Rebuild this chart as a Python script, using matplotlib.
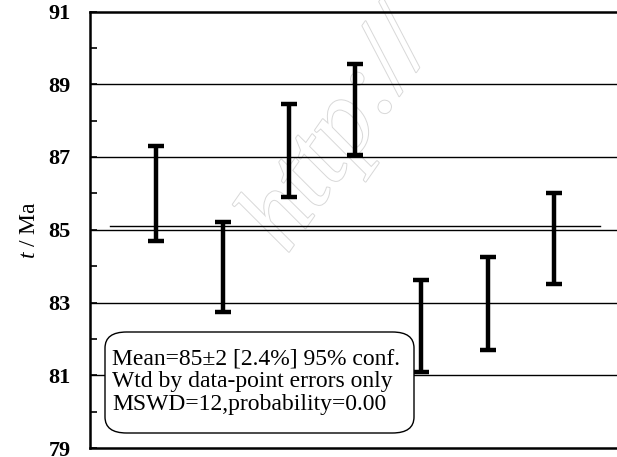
import numpy as np
import matplotlib.pyplot as plt
import matplotlib.patheffects as pe
from matplotlib.patches import FancyBboxPatch

# spot number and the two ends of each error bar (Ma)
spot = [1, 2, 3, 4, 5, 6, 7]
age_low = [84.70, 82.74, 85.91, 87.06, 81.08, 81.69, 83.52]
age_high = [87.31, 85.21, 88.45, 89.55, 83.62, 84.24, 86.00]
mean_age = 85.11
yticks = [79, 81, 83, 85, 87, 89, 91]

plt.rcParams['font.family'] = ['Liberation Serif', 'DejaVu Serif']
plt.rcParams['mathtext.fontset'] = 'custom'
plt.rcParams['mathtext.rm'] = 'Liberation Serif'
plt.rcParams['mathtext.it'] = 'Liberation Serif:italic'

fig = plt.figure(figsize=(6.17, 4.57), dpi=100)
ax = fig.add_axes([90/617, 1 - 448/457, 1 - 90/617 + 0.005, (448 - 11.5)/457])
ax.set_facecolor('none')

# faint watermark, behind everything
fig.text(340/617, 1 - 135/457, 'http://', fontsize=76, style='italic',
         rotation=55, ha='center', va='center', color='white',
         path_effects=[pe.withStroke(linewidth=1.4, foreground='#d8d8d8')],
         zorder=-1)

lo = np.array(age_low)
hi = np.array(age_high)
mid = (lo + hi) / 2
ax.errorbar(spot, mid, yerr=(hi - lo) / 2, fmt='none', ecolor='black',
            elinewidth=3.2, capsize=5.5, capthick=3.2, zorder=3)

for v in [81, 83, 85, 87, 89]:
    ax.axhline(v, color='black', lw=1.0, zorder=1)
ax.plot([0.3, 7.7], [mean_age, mean_age], color='black', lw=1.0, zorder=2)

ax.set_xlim(0, 8)
ax.set_ylim(79, 91)
ax.set_yticks(yticks)
ax.set_yticks(np.arange(80, 91, 2), minor=True)
ax.set_xticks([])
ax.tick_params(axis='y', which='both', direction='in', length=5, width=1.2, pad=14)
ax.tick_params(axis='y', labelsize=16)
for lab in ax.get_yticklabels():
    lab.set_fontweight('bold')
ax.spines['right'].set_visible(False)
for s in ['top', 'left', 'bottom']:
    ax.spines[s].set_linewidth(1.8)

ax.set_ylabel(r'$t$ / Ma', fontsize=17, labelpad=6)

box = FancyBboxPatch((105/617, 1 - 433/457), (414 - 105)/617, (433 - 332)/457,
                     boxstyle='round,pad=0,rounding_size=0.035',
                     transform=fig.transFigure, facecolor='white',
                     edgecolor='black', lw=1.0, zorder=4)
fig.patches.append(box)
fig.text(112/617, 1 - 382/457,
         'Mean=85\u00b12 [2.4%] 95% conf.\nWtd by data-point errors only\nMSWD=12,probability=0.00',
         fontsize=17, va='center', ha='left', linespacing=1.12, zorder=5)

fig.savefig('out.png', dpi=100)
